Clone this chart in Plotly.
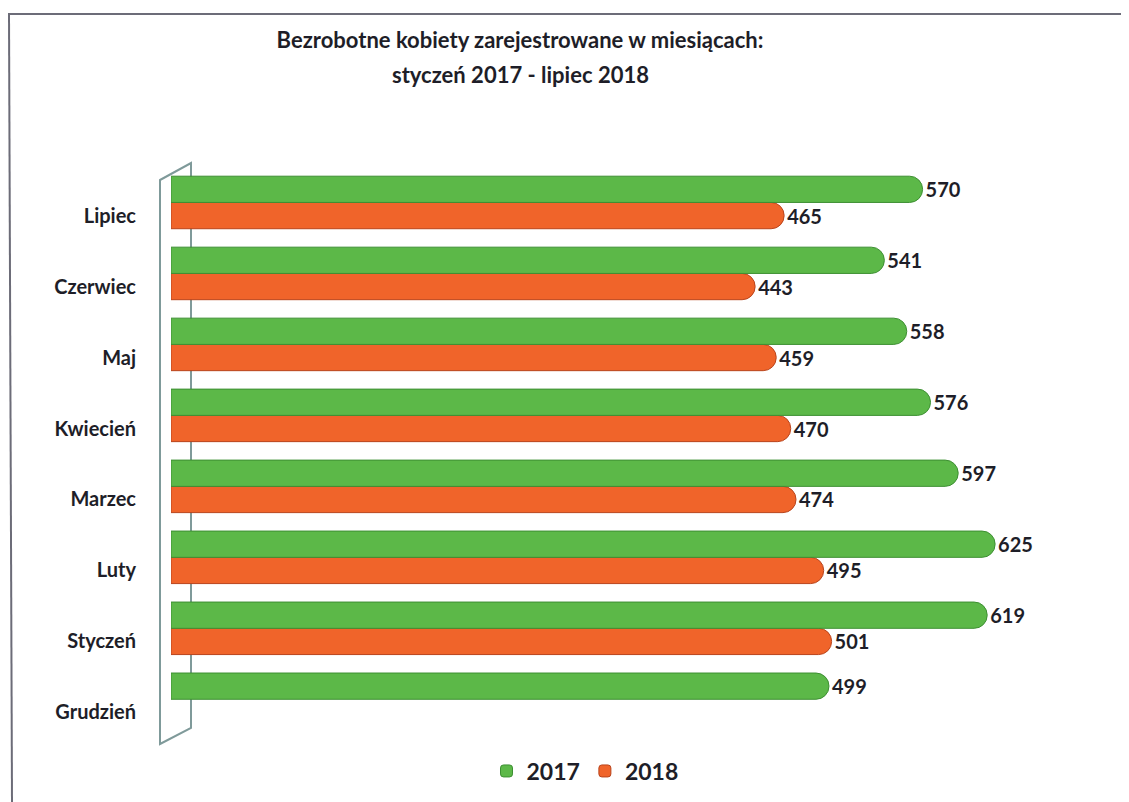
import plotly.graph_objects as go

months = ["Grudzień", "Styczeń", "Luty", "Marzec", "Kwiecień", "Maj", "Czerwiec", "Lipiec"]
values_2017 = [499, 619, 625, 597, 576, 558, 541, 570]
values_2018 = [None, 501, 495, 474, 470, 459, 443, 465]
text_2018 = ["" if v is None else str(v) for v in values_2018]

GREEN = "#5cb848"
GREEN_LINE = "#3d8f32"
ORANGE = "#f0642a"
ORANGE_LINE = "#b9441c"
TXT = "#1e1e28"
FONT = "Lato"

fig = go.Figure()
fig.add_trace(go.Bar(
    y=months, x=values_2018, orientation="h", name="<b>2018</b>",
    marker=dict(color=ORANGE, line=dict(color=ORANGE_LINE, width=1)),
    width=0.37, offset=-0.185,
    text=text_2018, textposition="outside", cliponaxis=False,
    textfont=dict(family=FONT, size=20, color=TXT),
    legendrank=2,
))
fig.add_trace(go.Bar(
    y=months, x=values_2017, orientation="h", name="<b>2017</b>",
    marker=dict(color=GREEN, line=dict(color=GREEN_LINE, width=1)),
    width=0.37, offset=0.185,
    text=[str(v) for v in values_2017], textposition="outside", cliponaxis=False,
    textfont=dict(family=FONT, size=20, color=TXT),
    legendrank=1,
))

S = 8  # page body margin
W, H = 1129 - S, 802 - S
L, R, T, B = 171 - S, 35, 173 - S, 47
pw, ph = W - L - R, H - T - B

def px(x):
    return (x - S - L) / pw

def py(y):
    return (H - B - (y - S)) / ph

shapes = [
    # 3D wall outline
    dict(type="path", xref="paper", yref="paper",
         path=f"M {px(160)} {py(180)} L {px(191)} {py(163)} L {px(191)} {py(728)} L {px(160)} {py(744)} Z",
         line=dict(color="#7f9a9a", width=2), fillcolor="rgba(0,0,0,0)", layer="below"),
    # scanned page border
    dict(type="line", xref="paper", yref="paper", x0=px(8), x1=px(1129), y0=py(14), y1=py(14),
         line=dict(color="#6c6c78", width=2)),
    dict(type="line", xref="paper", yref="paper", x0=px(9), x1=px(12), y0=py(14), y1=py(802),
         line=dict(color="#6c6c78", width=2)),
]

fig.update_layout(
    width=W, height=H,
    margin=dict(l=L, r=R, t=T, b=B, autoexpand=False),
    paper_bgcolor="white", plot_bgcolor="white",
    barmode="overlay",
    barcornerradius=13,
    title=dict(text="<b>Bezrobotne kobiety zarejestrowane w miesiącach:</b>",
               x=(520 - S) / W, xanchor="center", y=1 - (40 - S) / H, yanchor="middle",
               font=dict(family=FONT, size=22, color=TXT)),
    annotations=[dict(text="<b>styczeń 2017 - lipiec 2018</b>", xref="paper", yref="paper",
                      x=px(520), y=py(75), xanchor="center", yanchor="middle", showarrow=False,
                      font=dict(family=FONT, size=22, color=TXT))],
    xaxis=dict(range=[0, 700], visible=False, fixedrange=True),
    yaxis=dict(range=[-0.6, 7.6], showgrid=False, zeroline=False, showline=False,
               ticks="", ticklabelstandoff=34, automargin=False,
               tickfont=dict(family=FONT, size=20, color=TXT),
               tickvals=months, ticktext=[f"<b>{m}</b>" for m in months]),
    legend=dict(orientation="h", xref="container", x=(585 - S) / W, xanchor="center",
                yref="container", y=(802 - 771) / H, yanchor="middle",
                font=dict(family=FONT, size=23, color=TXT), itemwidth=30),
    shapes=shapes,
    showlegend=True,
)
fig.update_traces(texttemplate="<b>%{text}</b>")

fig.write_html("out.html")
